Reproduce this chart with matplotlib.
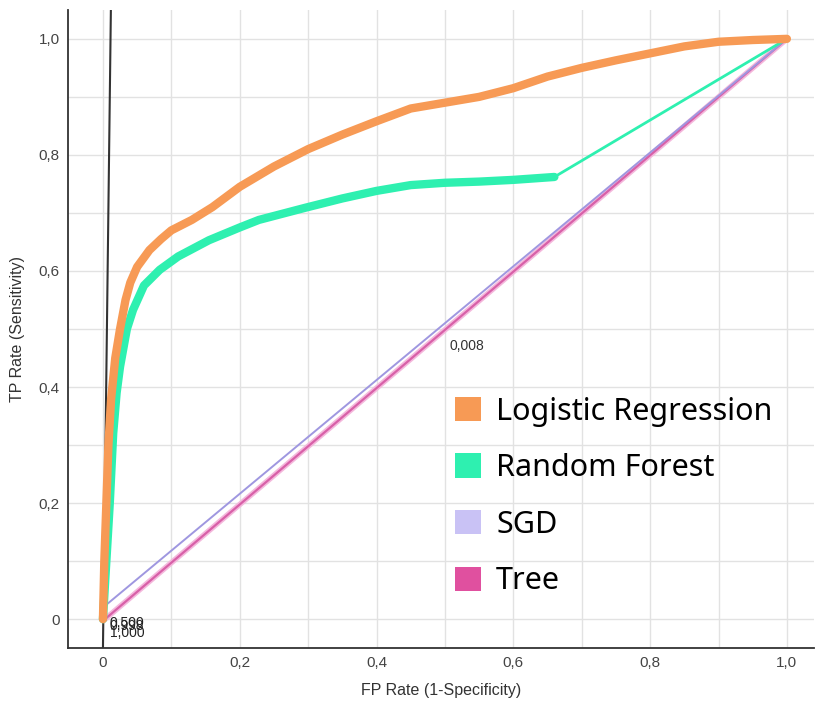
import numpy as np
import matplotlib.pyplot as plt
from matplotlib.patches import Patch
from matplotlib.ticker import MultipleLocator

# ROC curves
lr_fpr = [0, 0.002, 0.005, 0.008, 0.012, 0.018, 0.025, 0.033, 0.04, 0.05, 0.068, 0.085,
          0.1, 0.13, 0.16, 0.2, 0.25, 0.3, 0.35, 0.4, 0.45, 0.5, 0.55, 0.6, 0.65, 0.7,
          0.75, 0.8, 0.85, 0.9, 0.95, 1.0]
lr_tpr = [0, 0.1, 0.2, 0.3, 0.38, 0.45, 0.5, 0.55, 0.58, 0.607, 0.636, 0.655,
          0.67, 0.688, 0.71, 0.745, 0.78, 0.81, 0.835, 0.858, 0.88, 0.89, 0.9, 0.915, 0.935, 0.95,
          0.963, 0.975, 0.987, 0.995, 0.998, 1.0]

rf_fpr = [0, 0.005, 0.01, 0.015, 0.02, 0.025, 0.035, 0.044, 0.06, 0.083, 0.11, 0.155,
          0.2, 0.228, 0.296, 0.35, 0.4, 0.45, 0.5, 0.55, 0.6, 0.66, 1.0]
rf_tpr = [0, 0.1, 0.2, 0.32, 0.39, 0.435, 0.5, 0.533, 0.575, 0.602, 0.625, 0.653,
          0.675, 0.688, 0.709, 0.725, 0.738, 0.748, 0.752, 0.754, 0.757, 0.762, 1.0]

sgd_fpr = [0, 1.0]
sgd_tpr = [0.02, 1.0]
tree_fpr = [0.003, 1.0]
tree_tpr = [0, 1.0]

# threshold line
thr_x = [0, 0.0116]
thr_y = [-0.05, 1.05]

names = ['Logistic Regression', 'Random Forest', 'SGD', 'Tree']
colors = ['#f79a55', '#2ef0b0', '#c9c2f5', '#e0509f']

fig = plt.figure(figsize=(8.2, 7.03), dpi=100)
ax = fig.add_axes([0.083, 0.078, 0.91, 0.908])

ax.plot(thr_x, thr_y, color='#333333', lw=1.5, zorder=2)
ax.plot(tree_fpr, tree_tpr, color='#f4b8dc', lw=4, zorder=3, solid_capstyle='round')
ax.plot(tree_fpr, tree_tpr, color='#d860a8', lw=1.6, zorder=3)
ax.plot(sgd_fpr, sgd_tpr, color='#9f97e0', lw=1.4, zorder=3)
ax.plot(rf_fpr[-2:], rf_tpr[-2:], color=colors[1], lw=2, zorder=4)
ax.plot(rf_fpr[:-1], rf_tpr[:-1], color=colors[1], lw=6, zorder=4,
        solid_capstyle='round', solid_joinstyle='round')
ax.plot(lr_fpr, lr_tpr, color=colors[0], lw=6, zorder=5,
        solid_capstyle='round', solid_joinstyle='round')

# threshold labels (overlapping near the origin, as in the original)
label_font = ['Liberation Sans', 'DejaVu Sans']
for t, yy in [('0,500', -0.006), ('0,998', -0.012), ('1,000', -0.024)]:
    ax.text(0.01, yy, t, fontsize=10, family=label_font, color='#222222',
            va='center', ha='left', zorder=6)
ax.text(0.507, 0.47, '0,008', fontsize=10, family=label_font, color='#333333',
        va='center', ha='left', zorder=6)

ax.set_xlim(-0.051, 1.04)
ax.set_ylim(-0.05, 1.05)
ax.xaxis.set_minor_locator(MultipleLocator(0.1))
ax.yaxis.set_minor_locator(MultipleLocator(0.1))

def fmt(v):
    return '0' if abs(v) < 1e-9 else f'{v:.1f}'.replace('.', ',')

xt = [0, 0.2, 0.4, 0.6, 0.8, 1.0]
ax.set_xticks(xt)
ax.set_xticklabels([fmt(v) for v in xt])
ax.set_yticks(xt)
ax.set_yticklabels([fmt(v) for v in xt])
ax.tick_params(which='both', length=0, labelsize=11, labelcolor='#444444', pad=6)
for lab in ax.get_xticklabels() + ax.get_yticklabels():
    lab.set_family(label_font)

ax.grid(which='both', color='#e2e2e2', lw=1)
ax.set_axisbelow(True)
for s in ['top', 'right']:
    ax.spines[s].set_visible(False)
for s in ['left', 'bottom']:
    ax.spines[s].set_color('#333333')
    ax.spines[s].set_linewidth(1.3)

ax.set_xlabel('FP Rate (1-Specificity)', fontsize=11.5, color='#333333', family=label_font, labelpad=9)
ax.set_ylabel('TP Rate (Sensitivity)', fontsize=11.5, color='#333333', family=label_font, labelpad=10)

handles = [Patch(facecolor=c, edgecolor='none') for c in colors]
leg = ax.legend(handles, names, loc='upper left', bbox_to_anchor=(0.498, 0.418),
                frameon=False, borderpad=0, handlelength=0.85, handleheight=0.85,
                handletextpad=0.5, labelspacing=0.87,
                prop={'family': ['Noto Sans', 'DejaVu Sans'], 'size': 22})

fig.savefig('out.png', dpi=100)
